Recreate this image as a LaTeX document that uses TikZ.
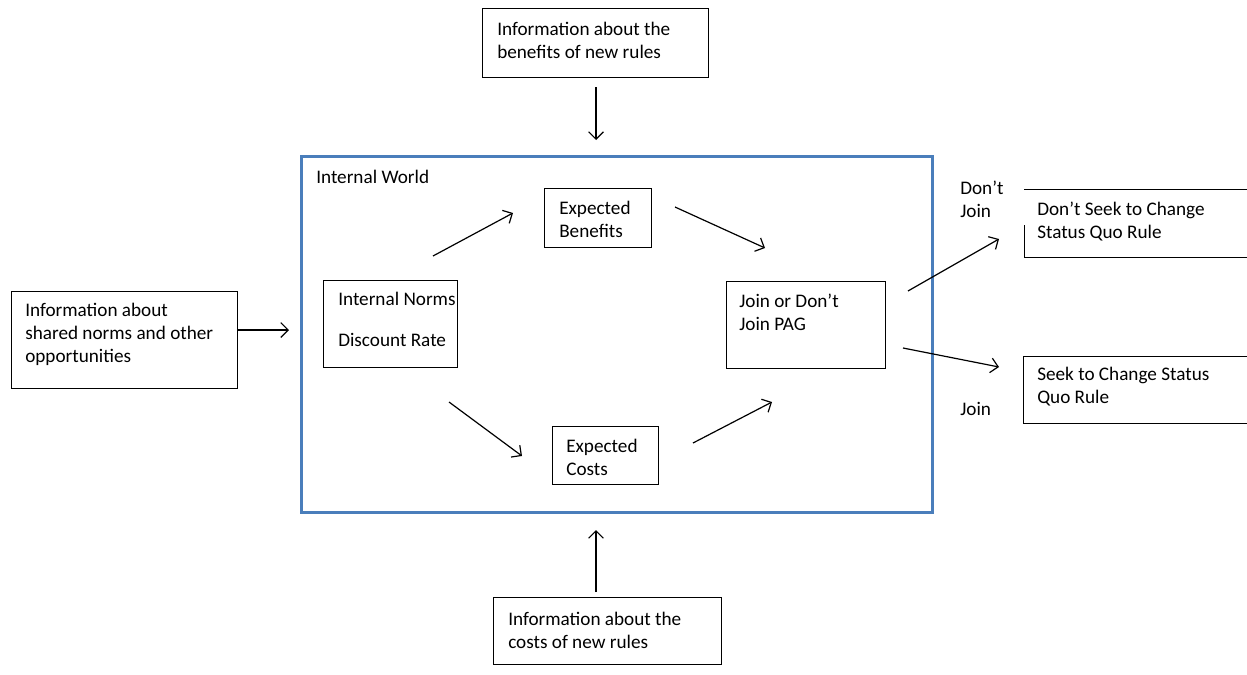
\documentclass[tikz,border=0pt]{standalone}
\usepackage{fontspec}
\setmainfont{Carlito}
\usetikzlibrary{arrows.meta}
\definecolor{worldblue}{RGB}{74,126,187}
\begin{document}
\begin{tikzpicture}[x=0.75pt,y=-0.75pt,
  box/.style={draw, line width=0.75pt, inner sep=0pt},
  txt/.style={anchor=base west, inner sep=0pt, align=left, font=\fontsize{14.4}{17.25}\selectfont},
  arr/.style={line width=0.9pt, -{Straight Barb[length=5.5pt,width=11pt,line width=0.9pt]}},
  worldbox/.style={draw=worldblue, line width=2.25pt}]
\useasboundingbox (0,0) rectangle (1247,675);
\clip (0,0) rectangle (1247,675);

% internal world
\draw[worldbox] (301,156) rectangle (932,512);
\node[txt] (worldlbl) at (316,183) {Internal World};

% boxes (text nodes are anchored at the baseline of their last line)
\draw[box] (482,8) rectangle (708,77);
\node[txt] (benefinfo) at (497,58) {Information about the\\benefits of new rules};

\draw[box] (11,291) rectangle (237,388);
\node[txt] (normsinfo) at (25,362) {Information about\\shared norms and other\\opportunities};

\draw[box] (493,597) rectangle (721,664);
\node[txt] (costinfo) at (508,648) {Information about the\\costs of new rules};

\draw[box] (323,280) rectangle (457,367);
\node[txt] (norms) at (338,305) {Internal Norms};
\node[txt] (discount) at (338,346) {Discount Rate};

\draw[box] (544,188) rectangle (651,247);
\node[txt] (benef) at (559,237) {Expected\\Benefits};

\draw[box] (552,426) rectangle (658,484);
\node[txt] (costs) at (566,475) {Expected\\Costs};

\draw[box] (726,281) rectangle (885,368);
\node[txt] (join) at (739,330) {Join or Don’t\\Join PAG};

% right-hand boxes (cut by the page edge)
\draw[box] (1024,189) -- (1247,189);
\draw[box] (1247,257) -- (1024,257) -- (1024,225);
\node[txt] (dontseek) at (1037,238) {Don’t Seek to Change\\Status Quo Rule};

\draw[box] (1247,356) -- (1023,356) -- (1023,423) -- (1247,423);
\node[txt] (seek) at (1037,403) {Seek to Change Status\\Quo Rule};

\node[txt] (dontjoinlbl) at (960,217) {Don’t\\Join};
\node[txt] (joinlbl) at (960,415) {Join};

% connectors
\coordinate (a1s) at (596,87);  \coordinate (a1e) at (596,140);
\coordinate (a2s) at (596,592); \coordinate (a2e) at (596,530);
\coordinate (a3s) at (237,330); \coordinate (a3e) at (289,330);
\coordinate (a4s) at (433,256); \coordinate (a4e) at (513,213);
\coordinate (a5s) at (675,207); \coordinate (a5e) at (765,248);
\coordinate (a6s) at (449,402); \coordinate (a6e) at (522,456);
\coordinate (a7s) at (693,443); \coordinate (a7e) at (772,402);
\coordinate (a8s) at (908,291); \coordinate (a8e) at (999,239);
\coordinate (a9s) at (903,348); \coordinate (a9e) at (999,367);
\foreach \i in {1,...,9} { \draw[arr] (a\i s) -- (a\i e); }
\end{tikzpicture}
\end{document}
